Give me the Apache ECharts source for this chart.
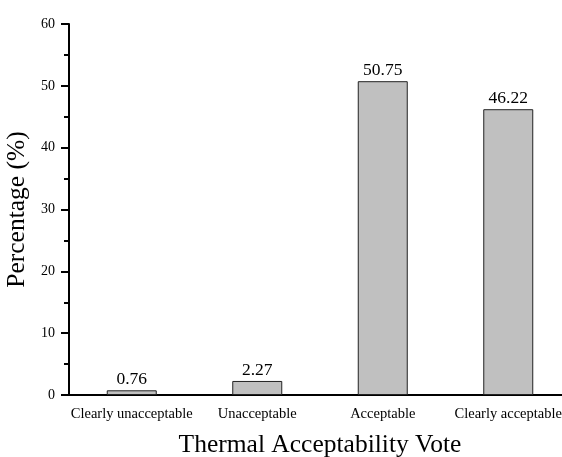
<!DOCTYPE html>
<html><head><meta charset="utf-8">
<script src="https://cdn.jsdelivr.net/npm/echarts@6/dist/echarts.min.js"></script>
<style>html,body{margin:0;padding:0;background:#fff}#c{width:562px;height:457px}</style>
</head><body><div id="c"></div>
<script>
const categories = ['Clearly unacceptable', 'Unacceptable', 'Acceptable', 'Clearly acceptable'];
const percentages = [0.76, 2.27, 50.75, 46.22];
const yTicks = [0, 10, 20, 30, 40, 50, 60];

const chart = echarts.init(document.getElementById('c'));
const serif = 'Liberation Serif, Times New Roman, serif';
chart.setOption({
  animation: false,
  grid: { left: 69, right: -9, top: 24, bottom: 62, containLabel: false, outerBoundsMode: 'none' },
  xAxis: {
    type: 'category', data: categories,
    name: 'Thermal Acceptability Vote', nameLocation: 'middle', nameGap: 37,
    nameTextStyle: { fontFamily: serif, fontSize: 25.5, color: '#000' },
    axisLine: { lineStyle: { color: '#000', width: 2 } },
    axisTick: { alignWithLabel: true, length: 7, lineStyle: { color: '#000', width: 2 } },
    axisLabel: { fontFamily: serif, fontSize: 14.5, color: '#000', margin: 12, interval: 0 }
  },
  yAxis: {
    type: 'value', min: 0, max: 60, interval: 10,
    name: 'Percentage (%)', nameLocation: 'middle', nameGap: 32,
    nameTextStyle: { fontFamily: serif, fontSize: 25.5, color: '#000' },
    axisLine: { show: true, lineStyle: { color: '#000', width: 2 } },
    axisTick: { show: true, length: 8, lineStyle: { color: '#000', width: 2 } },
    minorTick: { show: true, splitNumber: 2, length: 5, lineStyle: { color: '#000', width: 2 } },
    splitLine: { show: false },
    axisLabel: { fontFamily: serif, fontSize: 14, color: '#000', margin: 14,
      formatter: v => yTicks.includes(v) ? String(v) : '' }
  },
  series: [{
    type: 'bar', data: percentages, barWidth: 50,
    itemStyle: { color: '#c0c0c0', borderColor: '#222', borderWidth: 1 },
    label: { show: true, position: 'top', distance: 2, fontFamily: serif, fontSize: 17.5, color: '#000',
      formatter: p => p.value.toFixed(2) }
  }]
});
</script></body></html>
